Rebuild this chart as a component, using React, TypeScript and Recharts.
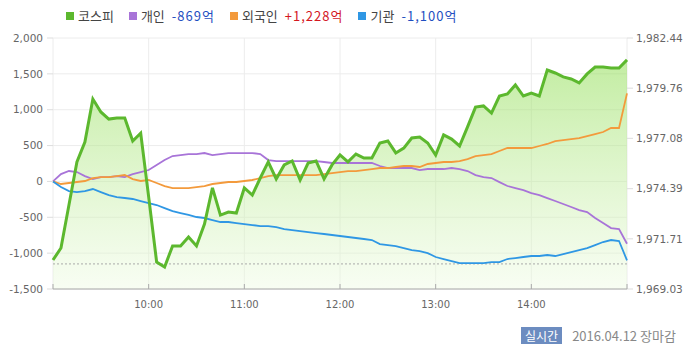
import React from "react";
import { ComposedChart, Area, Line, XAxis, YAxis, CartesianGrid, ReferenceLine } from "recharts";

// 5-minute samples, 09:00 .. 15:00
const kospi = [
  1970.58, 1971.22, 1973.52, 1975.82, 1976.88, 1979.18, 1978.49, 1978.11, 1978.17, 1978.17,
  1976.94, 1977.36, 1973.95, 1970.47, 1970.21, 1971.33, 1971.33, 1971.81, 1971.33, 1972.5,
  1974.43, 1972.98, 1973.14, 1973.09, 1974.43, 1974.05, 1974.96, 1975.82, 1974.91, 1975.66,
  1975.87, 1974.85, 1975.76, 1975.87, 1974.91, 1975.66, 1976.19, 1975.82, 1976.24, 1976.03,
  1976.03, 1976.83, 1976.94, 1976.3, 1976.56, 1977.1, 1977.15, 1976.83, 1976.19, 1977.26,
  1977.04, 1976.67, 1977.69, 1978.75, 1978.81, 1978.43, 1979.34, 1979.45, 1979.93, 1979.34,
  1979.5, 1979.34, 1980.73, 1980.57, 1980.36, 1980.25, 1980.04, 1980.52, 1980.89, 1980.89,
  1980.84, 1980.84, 1981.27,
];
const individual = [
  0, 103, 145, 131, 75, 33, 61, 61, 75, 61,
  103, 131, 159, 229, 298, 354, 368, 382, 382, 396,
  368, 382, 396, 396, 396, 396, 382, 298, 284, 284,
  284, 284, 284, 284, 271, 257, 257, 257, 257, 257,
  257, 215, 187, 187, 187, 187, 159, 173, 173, 173,
  187, 173, 145, 89, 61, 47, -10, -64, -92, -120,
  -162, -190, -232, -273, -315, -357, -399, -427, -510, -580,
  -650, -664, -869,
];
const foreign = [
  0, -36, -22, -8, 6, 47, 61, 61, 75, 89,
  33, 6, 20, -22, -64, -92, -92, -92, -78, -64,
  -36, -22, -8, -8, 6, 20, 47, 75, 89, 89,
  89, 89, 89, 89, 103, 117, 131, 145, 145, 159,
  173, 187, 187, 201, 215, 215, 201, 243, 257, 271,
  271, 284, 312, 354, 368, 382, 424, 466, 466, 466,
  466, 494, 522, 563, 577, 591, 605, 633, 661, 689,
  745, 745, 1228,
];
const institution = [
  0, -78, -134, -148, -134, -106, -148, -190, -218, -231,
  -245, -273, -301, -329, -371, -413, -441, -468, -496, -510,
  -538, -566, -566, -580, -594, -608, -622, -622, -636, -664,
  -678, -692, -706, -720, -733, -747, -761, -775, -789, -803,
  -817, -873, -887, -901, -929, -957, -971, -999, -1054, -1082,
  -1110, -1138, -1138, -1138, -1138, -1124, -1124, -1082, -1068, -1054,
  -1040, -1040, -1026, -1040, -1012, -985, -957, -929, -887, -845,
  -817, -831, -1100,
];

const leftTicks = [-1500, -1000, -500, 0, 500, 1000, 1500, 2000];
const rightTicks = [1969.03, 1971.71, 1974.39, 1977.08, 1979.76, 1982.44];
const hourTicks = [0, 60, 120, 180, 240, 300, 360];
const prevClose = 1970.37;

const data = kospi.map((k, i) => ({
  t: i * 5,
  kospi: k,
  individual: individual[i],
  foreign: foreign[i],
  institution: institution[i],
}));

const axisFont = { fontFamily: "DejaVu Sans", fontSize: 10.5, fill: "#666" };

function HourTick({ x, y, payload }: any) {
  const m = payload.value;
  const label = m > 0 && m < 360 ? `${9 + m / 60}:00` : "";
  return (
    <g>
      <line x1={x} x2={x} y1={y} y2={y - 5} stroke="#aaa" />
      {label && (
        <text x={x} y={y + 19} textAnchor="middle" {...axisFont} fontSize={10}>
          {label}
        </text>
      )}
    </g>
  );
}

const fmtAmt = (v: number) => (v > 0 ? "+" : "") + v.toLocaleString("en-US") + "억";

const legendItems = [
  { name: "코스피", color: "#5cb82e", value: null as number | null },
  { name: "개인", color: "#a874d8", value: individual[individual.length - 1] },
  { name: "외국인", color: "#f39a3c", value: foreign[foreign.length - 1] },
  { name: "기관", color: "#2f97e4", value: institution[institution.length - 1] },
];

export default function App() {
  return (
    <div style={{ position: "fixed", left: 0, top: 0, width: 700, height: 358, background: "#fff" }}>
      <div
        style={{
          position: "absolute",
          left: 66,
          top: 6,
          display: "flex",
          alignItems: "center",
          gap: 15,
          fontFamily: '"Noto Sans CJK KR"',
          fontSize: 13,
          color: "#444",
          whiteSpace: "nowrap",
        }}
      >
        {legendItems.map((it) => (
          <div key={it.name} style={{ display: "flex", alignItems: "center" }}>
            <span style={{ width: 8, height: 8, background: it.color, marginRight: 4, display: "inline-block" }} />
            <span>{it.name}</span>
            {it.value !== null && (
              <span style={{ marginLeft: 7, letterSpacing: 1, color: it.value < 0 ? "#1f4fc1" : "#d4171f" }}>
                {fmtAmt(it.value)}
              </span>
            )}
          </div>
        ))}
      </div>

      <ComposedChart width={700} height={358} data={data} margin={{ top: 38, right: 0, bottom: 39, left: 0 }}>
        <defs>
          <linearGradient id="kospiFill" x1="0" y1="0" x2="0" y2="1">
            <stop offset="0%" stopColor="#8fdd52" stopOpacity={0.9} />
            <stop offset="100%" stopColor="#eefbe2" stopOpacity={0.7} />
          </linearGradient>
        </defs>
        <CartesianGrid yAxisId="left" stroke="#ececec" />
        <XAxis
          dataKey="t"
          type="number"
          domain={[0, 360]}
          ticks={hourTicks}
          height={30}
          tickSize={0}
          tickMargin={0}
          tickLine={false}
          axisLine={{ stroke: "#aaa" }}
          tick={<HourTick />}
          interval={0}
        />
        <YAxis
          yAxisId="left"
          domain={[-1500, 2000]}
          ticks={leftTicks}
          width={53}
          axisLine={false}
          tickLine={{ stroke: "#ddd" }}
          tickSize={6}
          tickMargin={4}
          tick={axisFont}
          tickFormatter={(v: number) => v.toLocaleString("en-US")}
          interval={0}
        />
        <YAxis
          yAxisId="right"
          orientation="right"
          domain={[1969.03, 1982.44]}
          ticks={rightTicks}
          width={73}
          axisLine={false}
          tickLine={{ stroke: "#ddd" }}
          tickSize={6}
          tickMargin={3}
          tick={axisFont}
          tickFormatter={(v: number) => v.toLocaleString("en-US", { minimumFractionDigits: 2 })}
          interval={0}
          allowDataOverflow
        />
        <Area
          yAxisId="right"
          dataKey="kospi"
          type="linear"
          stroke="none"
          fill="url(#kospiFill)"
          isAnimationActive={false}
          baseValue={1969.03}
        />
        <ReferenceLine yAxisId="right" y={prevClose} stroke="#aaa" strokeDasharray="2 2" />
        <Line yAxisId="left" dataKey="individual" type="linear" stroke="#a874d8" strokeWidth={1.8} dot={false} isAnimationActive={false} />
        <Line yAxisId="left" dataKey="foreign" type="linear" stroke="#f39a3c" strokeWidth={1.8} dot={false} isAnimationActive={false} />
        <Line yAxisId="left" dataKey="institution" type="linear" stroke="#2f97e4" strokeWidth={1.8} dot={false} isAnimationActive={false} />
        <Line yAxisId="right" dataKey="kospi" type="linear" stroke="#5cb82e" strokeWidth={3} dot={false} isAnimationActive={false} />
      </ComposedChart>

      <div
        style={{
          position: "absolute",
          left: 521,
          top: 326,
          display: "flex",
          alignItems: "center",
          fontFamily: '"Noto Sans CJK KR"',
          fontSize: 13,
          color: "#888",
          whiteSpace: "nowrap",
        }}
      >
        <span style={{ background: "#6c8cc0", color: "#fff", fontSize: 12, padding: "0 4px", lineHeight: "17px", marginRight: 10 }}>
          실시간
        </span>
        <span>2016.04.12 장마감</span>
      </div>
    </div>
  );
}
